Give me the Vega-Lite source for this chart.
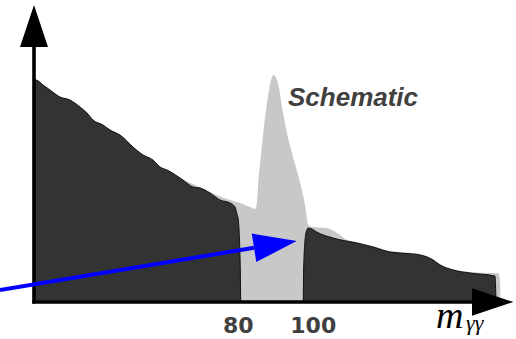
{
  "$schema": "https://vega.github.io/schema/vega-lite/v6.json",
  "width": 479,
  "height": 297,
  "autosize": {"type": "none"},
  "padding": {"left": 34, "top": 5, "right": 3, "bottom": 37},
  "background": "white",
  "config": {"view": {"stroke": null}},
  "datasets": {
    "gray": [
      {"m": 25, "y": 222}, {"m": 25.53, "y": 222}, {"m": 27.4, "y": 217}, {"m": 29.27, "y": 212},
      {"m": 31.93, "y": 205}, {"m": 34.6, "y": 202}, {"m": 37.27, "y": 195}, {"m": 39.13, "y": 189},
      {"m": 40.73, "y": 182}, {"m": 43.4, "y": 177}, {"m": 45.27, "y": 172}, {"m": 47.93, "y": 167},
      {"m": 51.4, "y": 155}, {"m": 54.07, "y": 147}, {"m": 56.73, "y": 142}, {"m": 58.6, "y": 135},
      {"m": 60.47, "y": 132}, {"m": 64.73, "y": 122}, {"m": 67.4, "y": 118}, {"m": 71.93, "y": 110},
      {"m": 76.39, "y": 103}, {"m": 79.93, "y": 99}, {"m": 82.6, "y": 95}, {"m": 83.93, "y": 93},
      {"m": 84.39, "y": 97}, {"m": 84.81, "y": 120}, {"m": 85.45, "y": 144}, {"m": 86.15, "y": 170},
      {"m": 87.05, "y": 197}, {"m": 87.93, "y": 217}, {"m": 88.81, "y": 227}, {"m": 90.15, "y": 217},
      {"m": 91.05, "y": 197}, {"m": 92.39, "y": 170}, {"m": 94.15, "y": 144}, {"m": 95.93, "y": 120},
      {"m": 97.27, "y": 97}, {"m": 98.15, "y": 77}, {"m": 99.13, "y": 75}, {"m": 103.13, "y": 74},
      {"m": 106.6, "y": 67}, {"m": 108.47, "y": 62}, {"m": 111.05, "y": 60}, {"m": 115.4, "y": 56},
      {"m": 119.93, "y": 51}, {"m": 122.6, "y": 50}, {"m": 127.93, "y": 48}, {"m": 131.4, "y": 43},
      {"m": 133.27, "y": 38}, {"m": 136.73, "y": 33}, {"m": 141.27, "y": 30}, {"m": 146.6, "y": 29},
      {"m": 148.73, "y": 29}, {"m": 149.27, "y": 22}, {"m": 149.4, "y": 0}
    ],
    "dark": [
      {"seg": "L", "m": 25, "y": 222}, {"seg": "L", "m": 25.53, "y": 222}, {"seg": "L", "m": 27.4, "y": 217},
      {"seg": "L", "m": 29.27, "y": 212}, {"seg": "L", "m": 31.93, "y": 205}, {"seg": "L", "m": 34.6, "y": 202},
      {"seg": "L", "m": 37.27, "y": 195}, {"seg": "L", "m": 39.13, "y": 189}, {"seg": "L", "m": 40.73, "y": 182},
      {"seg": "L", "m": 43.4, "y": 177}, {"seg": "L", "m": 45.27, "y": 172}, {"seg": "L", "m": 47.93, "y": 167},
      {"seg": "L", "m": 51.4, "y": 155}, {"seg": "L", "m": 54.07, "y": 147}, {"seg": "L", "m": 56.73, "y": 142},
      {"seg": "L", "m": 58.6, "y": 135}, {"seg": "L", "m": 60.47, "y": 132}, {"seg": "L", "m": 64.73, "y": 122},
      {"seg": "L", "m": 67.4, "y": 115}, {"seg": "L", "m": 69.27, "y": 114}, {"seg": "L", "m": 71.93, "y": 109},
      {"seg": "L", "m": 74.6, "y": 102}, {"seg": "L", "m": 77.27, "y": 99}, {"seg": "L", "m": 78.6, "y": 95},
      {"seg": "L", "m": 79.05, "y": 89}, {"seg": "L", "m": 79.48, "y": 82}, {"seg": "L", "m": 79.8, "y": 62},
      {"seg": "L", "m": 80.01, "y": 32}, {"seg": "L", "m": 80.12, "y": 0},
      {"seg": "R", "m": 96.81, "y": 0}, {"seg": "R", "m": 96.89, "y": 32}, {"seg": "R", "m": 97.0, "y": 44},
      {"seg": "R", "m": 97.27, "y": 62}, {"seg": "R", "m": 97.53, "y": 69}, {"seg": "R", "m": 98.15, "y": 74},
      {"seg": "R", "m": 99.13, "y": 73}, {"seg": "R", "m": 100.39, "y": 70}, {"seg": "R", "m": 104.73, "y": 64},
      {"seg": "R", "m": 111.05, "y": 59}, {"seg": "R", "m": 115.4, "y": 55}, {"seg": "R", "m": 119.93, "y": 50},
      {"seg": "R", "m": 122.6, "y": 49}, {"seg": "R", "m": 127.93, "y": 47}, {"seg": "R", "m": 131.4, "y": 42},
      {"seg": "R", "m": 133.27, "y": 37}, {"seg": "R", "m": 136.73, "y": 32}, {"seg": "R", "m": 141.27, "y": 29},
      {"seg": "R", "m": 147.93, "y": 26}, {"seg": "R", "m": 148.07, "y": 17}, {"seg": "R", "m": 148.2, "y": 0}
    ],
    "blueline": [{"m": 15.93, "y": 12, "m2": 83.67, "y2": 54.2}],
    "bluehead": [{"m": 83.67, "y": 54.2}],
    "axes": [
      {"m": 25, "y": -1.5, "m2": 25, "y2": 257},
      {"m": 24.55, "y": 0, "m2": 142.2, "y2": 0}
    ],
    "uphead": [{"m": 25, "y": 255}],
    "righthead": [{"m": 141.8, "y": 0}],
    "ticks": [{"m": 80, "y": -31.3, "t": "80"}, {"m": 100, "y": -31.3, "t": "100"}],
    "note": [{"m": 92.73, "y": 196, "t": "Schematic"}],
    "mvar": [{"m": 132.2, "y": -26, "t": "m"}],
    "msub": [{"m": 140.2, "y": -28, "t": "γγ"}]
  },
  "layer": [
    {
      "data": {"name": "gray"},
      "mark": {"type": "area", "color": "#c8c8c8", "interpolate": "monotone"},
      "encoding": {
        "x": {"field": "m", "type": "quantitative", "scale": {"domain": [25, 152.73], "nice": false, "zero": false}, "axis": null},
        "y": {"field": "y", "type": "quantitative", "scale": {"domain": [0, 297], "nice": false, "zero": false}, "axis": null},
        "y2": {"datum": 0}
      }
    },
    {
      "data": {"name": "dark"},
      "mark": {"type": "area", "color": "#333333", "stroke": "#111111", "strokeWidth": 1, "interpolate": "monotone"},
      "encoding": {
        "x": {"field": "m", "type": "quantitative"},
        "y": {"field": "y", "type": "quantitative"},
        "y2": {"datum": 0},
        "detail": {"field": "seg"}
      }
    },
    {
      "data": {"name": "axes"},
      "mark": {"type": "rule", "color": "#000000", "strokeWidth": 3.6},
      "encoding": {
        "x": {"field": "m", "type": "quantitative"},
        "y": {"field": "y", "type": "quantitative"},
        "x2": {"field": "m2"},
        "y2": {"field": "y2"}
      }
    },
    {
      "data": {"name": "uphead"},
      "mark": {"type": "point", "shape": "M0,-3L1,0L-1,0Z", "filled": true, "color": "#000000", "opacity": 1, "size": 784, "strokeWidth": 0},
      "encoding": {
        "x": {"field": "m", "type": "quantitative"},
        "y": {"field": "y", "type": "quantitative"}
      }
    },
    {
      "data": {"name": "righthead"},
      "mark": {"type": "point", "shape": "M3,0L0,-1L0,1Z", "filled": true, "color": "#000000", "opacity": 1, "size": 760, "strokeWidth": 0},
      "encoding": {
        "x": {"field": "m", "type": "quantitative"},
        "y": {"field": "y", "type": "quantitative"}
      }
    },
    {
      "data": {"name": "blueline"},
      "mark": {"type": "rule", "color": "#0000ff", "strokeWidth": 4},
      "encoding": {
        "x": {"field": "m", "type": "quantitative"},
        "y": {"field": "y", "type": "quantitative"},
        "x2": {"field": "m2"},
        "y2": {"field": "y2"}
      }
    },
    {
      "data": {"name": "bluehead"},
      "mark": {"type": "point", "shape": "M3,0L0,-1L0,1Z", "filled": true, "color": "#0000ff", "opacity": 1, "size": 829, "strokeWidth": 0, "angle": 351},
      "encoding": {
        "x": {"field": "m", "type": "quantitative"},
        "y": {"field": "y", "type": "quantitative"}
      }
    },
    {
      "data": {"name": "ticks"},
      "mark": {"type": "text", "font": "DejaVu Sans", "fontWeight": "bold", "fontSize": 22, "color": "#404040", "align": "center", "baseline": "alphabetic", "dx": -2},
      "encoding": {
        "x": {"field": "m", "type": "quantitative"},
        "y": {"field": "y", "type": "quantitative"},
        "text": {"field": "t"}
      }
    },
    {
      "data": {"name": "note"},
      "mark": {"type": "text", "font": "Liberation Sans", "fontWeight": "bold", "fontStyle": "italic", "fontSize": 26, "color": "#404040", "align": "left", "baseline": "alphabetic"},
      "encoding": {
        "x": {"field": "m", "type": "quantitative"},
        "y": {"field": "y", "type": "quantitative"},
        "text": {"field": "t"}
      }
    },
    {
      "data": {"name": "mvar"},
      "mark": {"type": "text", "font": "Liberation Serif", "fontStyle": "italic", "fontSize": 38, "color": "#000000", "align": "left", "baseline": "alphabetic"},
      "encoding": {
        "x": {"field": "m", "type": "quantitative"},
        "y": {"field": "y", "type": "quantitative"},
        "text": {"field": "t"}
      }
    },
    {
      "data": {"name": "msub"},
      "mark": {"type": "text", "font": "Liberation Serif", "fontStyle": "italic", "fontSize": 22, "color": "#000000", "align": "left", "baseline": "alphabetic"},
      "encoding": {
        "x": {"field": "m", "type": "quantitative"},
        "y": {"field": "y", "type": "quantitative"},
        "text": {"field": "t"}
      }
    }
  ]
}
